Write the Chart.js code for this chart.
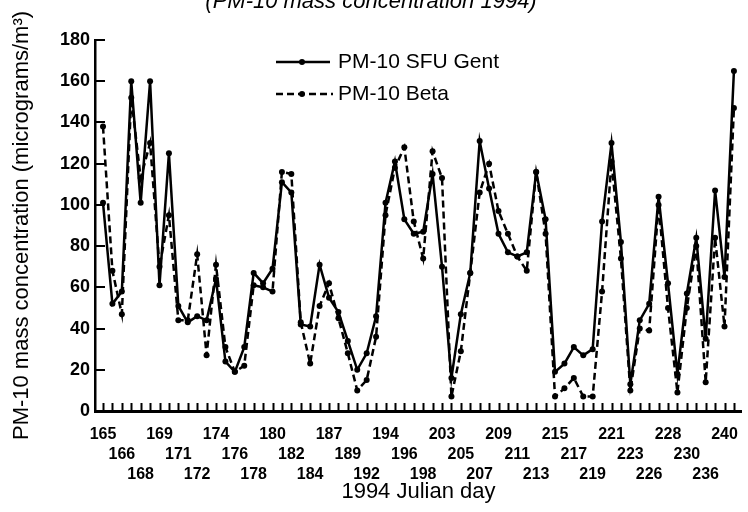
<!DOCTYPE html>
<html><head><meta charset="utf-8">
<script src="https://cdn.jsdelivr.net/npm/chart.js@4.4.1/dist/chart.umd.min.js"></script>
<style>
html,body{margin:0;padding:0;background:#fff;}
#wrap{position:relative;width:748px;height:512px;overflow:hidden;background:#fff;}
#c{position:absolute;left:0;top:-12px;}
</style></head><body>
<div id="wrap"><canvas id="c" width="748" height="524"></canvas></div>
<script>
// Julian day labels (one label every second sample)
const dayLabels = ['165','166','168','169','171','172','174','176','178','180',
  '182','184','187','189','192','194','196','198','203','205',
  '207','209','211','213','215','217','219','221','223','226',
  '228','230','236','240'];

// PM-10 SFU Gent (solid)
const gentValues = [101, 52, 58, 160, 101, 160, 61, 125, 51, 43,
  46, 44, 64, 24, 19, 31, 67, 62, 69, 111,
  106, 42, 41, 71, 55, 48, 34, 20, 28, 46,
  101, 121, 93, 86, 87, 115, 70, 16, 47, 67,
  131, 108, 86, 77, 75, 77, 116, 93, 19, 23,
  31, 27, 30, 92, 130, 82, 13, 44, 52, 104,
  62, 18, 57, 84, 35, 107, 65, 165];

// PM-10 Beta (dashed)
const betaValues = [138, 68, 47, 152, 113, 130, 70, 95, 44, 44,
  76, 27, 71, 31, 19, 22, 61, 60, 58, 116,
  115, 43, 23, 51, 62, 45, 28, 10, 15, 36,
  95, 118, 128, 92, 74, 126, 113, 7, 29, 67,
  106, 120, 97, 86, 75, 68, 116, 86, 7, 11,
  16, 7, 7, 58, 121, 74, 10, 40, 39, 100,
  50, 9, 50, 80, 14, 84, 41, 147];

const yTickValues = [0, 20, 40, 60, 80, 100, 120, 140, 160, 180];
const seriesNames = ['PM-10 SFU Gent', 'PM-10 Beta'];

const FONT = "'Liberation Sans', Arial, Helvetica, sans-serif";

const inwardTicks = {
  id: 'inwardTicks',
  afterDraw(chart) {
    const {ctx, chartArea: a, scales: {x, y}} = chart;
    ctx.save();
    ctx.strokeStyle = '#000';
    ctx.lineWidth = 2;
    ctx.beginPath();
    x.ticks.forEach(t => {
      const px = Math.round(x.getPixelForValue(t.value)) + 0.5;
      ctx.moveTo(px, a.bottom);
      ctx.lineTo(px, a.bottom - 8);
    });
    y.ticks.forEach(t => {
      const py = Math.round(y.getPixelForValue(t.value));
      ctx.moveTo(a.left, py);
      ctx.lineTo(a.left + 10, py);
    });
    ctx.stroke();
    ctx.restore();
  }
};

const customLegend = {
  id: 'customLegend',
  afterDraw(chart) {
    const ctx = chart.ctx;
    const rows = [{y: 74, ds: chart.data.datasets[0], x2: 330}, {y: 106, ds: chart.data.datasets[1], x2: 333}];
    ctx.save();
    rows.forEach(r => {
      ctx.strokeStyle = '#000';
      ctx.lineWidth = r.ds.borderWidth;
      ctx.setLineDash(r.ds.borderDash || []);
      ctx.beginPath();
      ctx.moveTo(276, r.y);
      ctx.lineTo(r.x2, r.y);
      ctx.stroke();
      ctx.setLineDash([]);
      ctx.fillStyle = '#000';
      ctx.beginPath();
      ctx.arc(302, r.y, 3, 0, Math.PI * 2);
      ctx.fill();
      ctx.font = '21px ' + FONT;
      ctx.textBaseline = 'middle';
      ctx.textAlign = 'left';
      ctx.fillText(r.ds.label, 338, r.y);
    });
    ctx.restore();
  }
};

new Chart(document.getElementById('c'), {
  type: 'line',
  data: {
    datasets: [
      {
        label: seriesNames[0],
        data: gentValues.map((v, i) => ({x: i, y: v})),
        borderColor: '#000', backgroundColor: '#000',
        borderWidth: 2.5, pointRadius: 3, pointBackgroundColor: '#000',
        pointBorderWidth: 0, tension: 0, fill: false
      },
      {
        label: seriesNames[1],
        data: betaValues.map((v, i) => ({x: i, y: v})),
        borderColor: '#000', backgroundColor: '#000',
        borderWidth: 2.5, borderDash: [7, 4], pointRadius: 3, pointBackgroundColor: '#000',
        pointBorderWidth: 0, tension: 0, fill: false
      }
    ]
  },
  options: {
    responsive: false,
    animation: false,
    layout: {padding: {left: 0, right: 6, top: 0, bottom: 0}},
    plugins: {
      legend: {display: false},
      tooltip: {enabled: false},
      title: {
        display: true,
        text: '(PM-10 mass concentration 1994)',
        color: '#000',
        font: {family: FONT, size: 22, style: 'italic', weight: 'normal', lineHeight: 1.2},
        padding: {top: 1, bottom: 24.6}
      }
    },
    scales: {
      x: {
        type: 'linear',
        min: -0.85, max: 67.85,
        grid: {display: false, drawTicks: false},
        border: {display: true, color: '#000', width: 3},
        afterFit(s) { s.height = 101; },
        ticks: {
          stepSize: 1,
          includeBounds: false,
          autoSkip: false,
          maxRotation: 0, minRotation: 0,
          padding: 14,
          color: '#000',
          font: {family: FONT, size: 16, weight: 'bold', lineHeight: 1.25},
          callback(value) {
            if (!Number.isInteger(value) || value % 2 !== 0) return '';
            const k = value / 2;
            const lbl = dayLabels[k];
            if (lbl === undefined) return '';
            const row = k % 3;
            return Array(row).fill('').concat([lbl]);
          }
        },
        title: {
          display: true, text: '1994 Julian day', color: '#000',
          font: {family: FONT, size: 22, weight: 'normal', lineHeight: 1.2},
          padding: {top: 0, bottom: 6.8}
        }
      },
      y: {
        min: 0, max: 180,
        grid: {display: false, drawTicks: false},
        border: {display: true, color: '#000', width: 2.5},
        afterFit(s) { s.width = 95; },
        afterBuildTicks(s) { s.ticks = yTickValues.map(v => ({value: v})); },
        ticks: {
          padding: 5,
          color: '#000',
          font: {family: FONT, size: 18, weight: 'bold'}
        },
        title: {
          display: true, text: 'PM-10 mass concentration (micrograms/m³)', color: '#000',
          font: {family: FONT, size: 22, weight: 'normal', lineHeight: 1.2},
          padding: {top: 8.8, bottom: 0}
        }
      }
    }
  },
  plugins: [inwardTicks, customLegend]
});
</script>
</body></html>
